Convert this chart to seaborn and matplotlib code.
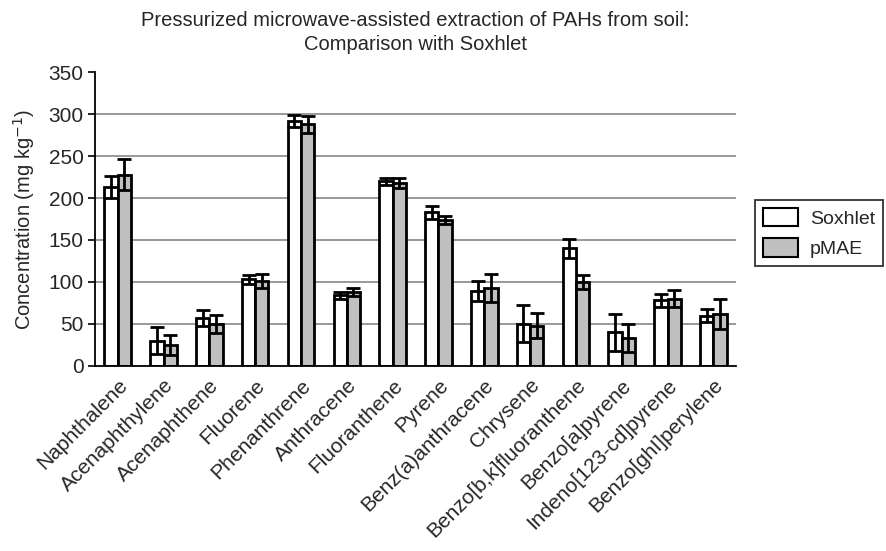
import matplotlib
matplotlib.use("Agg")
import matplotlib.pyplot as plt
import seaborn as sns
import pandas as pd
import numpy as np
from matplotlib.patches import Patch

compounds = ["Naphthalene", "Acenaphthylene", "Acenaphthene", "Fluorene", "Phenanthrene",
             "Anthracene", "Fluoranthene", "Pyrene", "Benz(a)anthracene", "Chrysene",
             "Benzo[b,k]fluoranthene", "Benzo[a]pyrene", "Indeno[123-cd]pyrene",
             "Benzo[ghI]perylene"]
soxhlet = [213, 30, 57, 103, 292, 84, 220, 183, 89, 50, 140, 40, 78, 60]
soxhlet_err = [13, 16, 10, 5, 7, 4, 4, 8, 12, 22, 11, 22, 8, 8]
pmae = [228, 25, 50, 101, 288, 88, 218, 174, 93, 48, 100, 33, 80, 62]
pmae_err = [19, 12, 11, 8, 10, 5, 6, 5, 17, 15, 8, 17, 10, 18]
series = ["Soxhlet", "pMAE"]
yticks = [0, 50, 100, 150, 200, 250, 300, 350]

df = pd.DataFrame({
    "compound": compounds * 2,
    "method": [series[0]] * len(compounds) + [series[1]] * len(compounds),
    "value": soxhlet + pmae,
})
errs = {series[0]: soxhlet_err, series[1]: pmae_err}

sns.set_style("white")
plt.rcParams['font.family'] = ['Liberation Sans', 'DejaVu Sans']

fig = plt.figure(figsize=(8.86, 5.51), dpi=100)
ax = fig.add_axes([0.107, 0.336, 0.724, 0.533])

palette = {series[0]: "white", series[1]: "#c0c0c0"}
sns.barplot(data=df, x="compound", y="value", hue="method", palette=palette,
            width=0.58, edgecolor="black", linewidth=2.0, ax=ax, errorbar=None,
            legend=False, saturation=1)

for container, name in zip(ax.containers, series):
    xs = [p.get_x() + p.get_width() / 2 for p in container.patches]
    hs = [p.get_height() for p in container.patches]
    ax.errorbar(xs, hs, yerr=errs[name], fmt="none", ecolor="black",
                elinewidth=2.0, capsize=5, capthick=2.0, zorder=5)

ax.set_ylim(0, 350)
ax.set_xlim(-0.5, len(compounds) - 0.5)
ax.set_yticks(yticks)
ax.set_yticklabels([str(t) for t in yticks], fontsize=15)
for t in yticks[1:-1]:
    ax.axhline(t, color="#888888", linewidth=1.2, zorder=0)
ax.set_axisbelow(True)

ax.set_xticks(np.arange(len(compounds)))
ax.set_xticklabels(compounds, rotation=45, ha="right", rotation_mode="anchor", fontsize=15)
ax.tick_params(axis="x", length=0, pad=7)
ax.set_xticks(np.arange(len(compounds) + 1) - 0.5, minor=True)
ax.tick_params(axis="x", which="minor", length=6, width=1.2, color="black", direction="out")
ax.tick_params(axis="y", length=5, width=1.2, color="black", direction="out", left=True, pad=3)

for s in ["top", "right"]:
    ax.spines[s].set_visible(False)
for s in ["left", "bottom"]:
    ax.spines[s].set_color("black")
    ax.spines[s].set_linewidth(1.3)

ax.set_xlabel("")
ax.set_ylabel("Concentration (mg kg$^{-1}$)", fontsize=14.5, labelpad=8)

ax.set_title("Pressurized microwave-assisted extraction of PAHs from soil:\nComparison with Soxhlet",
             fontsize=14.5, pad=16, linespacing=1.3)

handles = [Patch(facecolor=palette[s], edgecolor="black", linewidth=1.5, label=s) for s in series]
leg = fig.legend(handles=handles, loc="upper left", bbox_to_anchor=(0.846, 0.648),
                 fontsize=14, frameon=True, fancybox=False, edgecolor="black",
                 handlelength=1.8, handleheight=1.1, borderpad=0.4, labelspacing=0.55,
                 handletextpad=0.6, borderaxespad=0.3)
leg.get_frame().set_linewidth(1.3)

fig.savefig("out.png", dpi=100)
